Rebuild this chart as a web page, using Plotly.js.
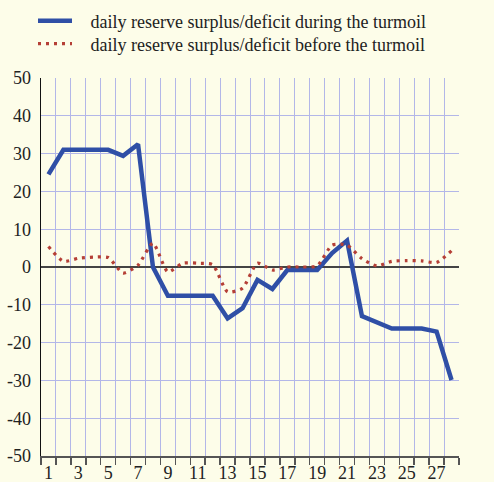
<!DOCTYPE html>
<html><head><meta charset="utf-8">
<script src="https://cdn.plot.ly/plotly-3.0.1.min.js"></script>
<style>html,body{margin:0;padding:0;background:#fdfde9;}#chart{width:494px;height:482px;}</style>
</head><body><div id="chart"></div>
<script>
var days = [1,2,3,4,5,6,7,8,9,10,11,12,13,14,15,16,17,18,19,20,21,22,23,24,25,26,27,28];
var during = [24.5,31,31,31,31,29.4,32.5,0,-7.6,-7.6,-7.6,-7.6,-13.6,-10.9,-3.4,-5.8,-0.8,-0.8,-0.8,3.7,7,-13,-14.6,-16.3,-16.3,-16.3,-17.1,-29.9];
var before = [5.4,1.5,2.3,2.6,2.5,-1.6,0.5,6.3,-1.3,1,1,0.6,-6.6,-5.6,1,-0.8,0,0,0.3,5.8,5.8,2.2,0.3,1.5,1.7,1.6,1.2,4.3];
var xLabels = [1,3,5,7,9,11,13,15,17,19,21,23,25,27];
var yTicks = [-50,-40,-30,-20,-10,0,10,20,30,40,50];
var names = ['daily reserve surplus/deficit during the turmoil','daily reserve surplus/deficit before the turmoil'];

var bg = '#fdfde9';
var grid = '#b3b7e8';
var font = {family:'Liberation Serif, Times New Roman, serif', size:18, color:'#222'};
var pad = '\u00a0\u00a0\u00a0';

var traces = [
  {x:days, y:during, type:'scatter', mode:'lines', name:pad+names[0], legend:'legend',
   line:{color:'#2f4fa6', width:4.5}, hoverinfo:'skip'},
  {x:days, y:before, type:'scatter', mode:'lines', name:pad+names[1], legend:'legend2',
   line:{color:'#b53f36', width:3.2, dash:'3px,5px', shape:'spline', smoothing:0.6}, hoverinfo:'skip'}
];

function leg(yc){
  return {x:33/494, y:1-yc/482, xref:'container', yref:'container', xanchor:'left', yanchor:'middle',
          bgcolor:'rgba(0,0,0,0)', font:font, itemwidth:34};
}

var layout = {
  width:494, height:482,
  margin:{l:40.5, r:35, t:78, b:26, autoexpand:false},
  paper_bgcolor:bg, plot_bgcolor:bg,
  font:font,
  showlegend:true,
  legend:leg(21),
  legend2:leg(44),
  xaxis:{range:[0.5,28.5], tickvals:xLabels, ticktext:xLabels.map(String), ticks:'', showgrid:false, automargin:false,
         zeroline:false, showline:true, linecolor:'#555', linewidth:1.5, tickfont:font,
         minor:{tick0:0.5, dtick:1, ticks:'outside', ticklen:7, tickcolor:'#555', tickwidth:1.5,
                showgrid:true, gridcolor:grid, gridwidth:1}},
  yaxis:{range:[-50,50], tickvals:yTicks, ticktext:yTicks.map(String), ticks:'', showgrid:true, gridcolor:grid, gridwidth:1,
         zeroline:true, zerolinecolor:'#444', zerolinewidth:1.5, automargin:false,
         showline:true, linecolor:'#111', linewidth:1.5, tickfont:font, ticklabelstandoff:5},
  yaxis2:{range:[-50,50], tickvals:yTicks, ticktext:yTicks.map(String), ticks:'', showgrid:false, zeroline:false,
          overlaying:'y', side:'right', showline:true, linecolor:'#111', linewidth:1.5, automargin:false,
          tickfont:font, ticklabelstandoff:12}
};
Plotly.newPlot('chart', traces, layout, {staticPlot:true, displayModeBar:false});
</script></body></html>
